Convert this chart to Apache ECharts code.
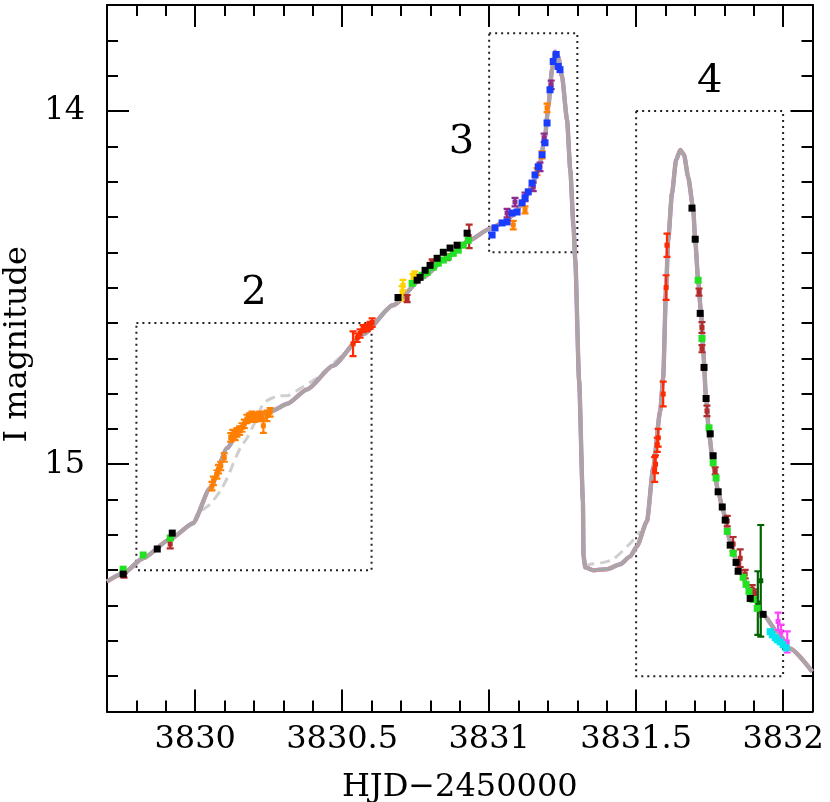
<!DOCTYPE html>
<html>
<head>
<meta charset="utf-8">
<script src="https://cdn.jsdelivr.net/npm/echarts@6/dist/echarts.min.js"></script>
<style>
  html, body { margin: 0; padding: 0; background: #fff; }
  #chart { width: 830px; height: 802px; }
</style>
</head>
<body>
<div id="chart"></div>
<script>
// model light curve [HJD-2450000, I mag]
var modelCurve = [
  [3829.700, 15.332], [3829.755, 15.309], [3829.823, 15.266], [3829.915, 15.212],
  [3829.993, 15.167], [3830.051, 15.067], [3830.109, 14.954], [3830.153, 14.897],
  [3830.180, 14.872], [3830.221, 14.858], [3830.265, 14.848], [3830.313, 14.829],
  [3830.381, 14.788], [3830.469, 14.721], [3830.571, 14.632], [3830.673, 14.550],
  [3830.776, 14.471], [3830.857, 14.414], [3830.929, 14.368], [3831.003, 14.333],
  [3831.048, 14.316], [3831.082, 14.295], [3831.116, 14.258], [3831.150, 14.204],
  [3831.173, 14.147], [3831.190, 14.073], [3831.201, 13.988], [3831.214, 13.883],
  [3831.224, 13.832], [3831.235, 13.846], [3831.248, 13.903], [3831.265, 14.025],
  [3831.276, 14.167], [3831.287, 14.328], [3831.293, 14.423], [3831.306, 14.763],
  [3831.319, 15.104], [3831.321, 15.260], [3831.327, 15.292], [3831.354, 15.300],
  [3831.401, 15.297], [3831.446, 15.283], [3831.480, 15.261], [3831.503, 15.232],
  [3831.537, 15.161], [3831.558, 15.011], [3831.582, 14.849], [3831.592, 14.755],
  [3831.602, 14.500], [3831.609, 14.366], [3831.622, 14.233], [3831.636, 14.139],
  [3831.650, 14.110], [3831.663, 14.124], [3831.677, 14.187], [3831.694, 14.275],
  [3831.701, 14.366], [3831.711, 14.479], [3831.721, 14.573], [3831.728, 14.678],
  [3831.738, 14.812], [3831.748, 14.914], [3831.762, 15.000], [3831.779, 15.076],
  [3831.796, 15.133], [3831.820, 15.218], [3831.847, 15.295], [3831.888, 15.360],
  [3831.932, 15.425], [3831.980, 15.474], [3832.024, 15.522], [3832.099, 15.587]
];

// alternative model (dashed), only where it departs from the others
var dashedCurve = [
  [3829.993, 15.167], [3830.007, 15.141], [3830.051, 15.113], [3830.085, 15.076],
  [3830.109, 15.039], [3830.129, 14.999], [3830.153, 14.954], [3830.177, 14.925],
  [3830.211, 14.868], [3830.231, 14.829], [3830.255, 14.815], [3830.289, 14.806],
  [3830.313, 14.806], [3830.357, 14.786], [3830.415, 14.755], [3830.469, 14.715],
  [3830.527, 14.673], null,
  [3831.327, 15.292], [3831.344, 15.283], [3831.378, 15.280], [3831.422, 15.269],
  [3831.480, 15.224], [3831.514, 15.190]
];

// observations [HJD, mag] or [HJD, mag, err]
var greenPts = [
  [3829.755, 15.297], [3829.823, 15.257], [3829.915, 15.209],
  [3830.738, 14.488], [3830.772, 14.465], [3830.789, 14.457], [3830.810, 14.442],
  [3830.827, 14.431], [3830.844, 14.422], [3830.861, 14.414], [3830.878, 14.403],
  [3830.895, 14.394], [3830.912, 14.380], [3830.929, 14.366],
  [3831.711, 14.479], [3831.724, 14.644], [3831.748, 14.897], [3831.762, 14.996],
  [3831.772, 15.039], [3831.810, 15.190], [3831.830, 15.252], [3831.864, 15.320],
  [3831.874, 15.340], [3831.884, 15.360], [3831.898, 15.383], [3831.912, 15.408]
];
var blackPts = [
  [3829.755, 15.311], [3829.871, 15.240], [3829.922, 15.195],
  [3830.690, 14.528], [3830.755, 14.479], [3830.765, 14.471], [3830.782, 14.451],
  [3830.799, 14.437], [3830.823, 14.417], [3830.844, 14.400], [3830.867, 14.388],
  [3830.891, 14.380], [3830.925, 14.346],
  [3831.690, 14.275], [3831.701, 14.363], [3831.718, 14.573], [3831.731, 14.726],
  [3831.738, 14.814], [3831.752, 14.914], [3831.762, 14.976], [3831.779, 15.078],
  [3831.793, 15.121], [3831.803, 15.158], [3831.820, 15.229], [3831.840, 15.278],
  [3831.847, 15.303], [3831.888, 15.380], [3831.932, 15.425]
];
var bluePts = [
  [3831.010, 14.351], [3831.020, 14.331], [3831.044, 14.317], [3831.061, 14.314],
  [3831.078, 14.289], [3831.095, 14.286], [3831.112, 14.260], [3831.122, 14.246],
  [3831.133, 14.229], [3831.146, 14.204], [3831.156, 14.181], [3831.167, 14.158],
  [3831.180, 14.124], [3831.190, 14.090], [3831.197, 14.034], [3831.207, 13.940],
  [3831.218, 13.860], [3831.228, 13.840], [3831.235, 13.874], [3831.241, 13.883]
];
var cyanPts = [
  [3831.956, 15.474], [3831.963, 15.483], [3831.973, 15.491], [3831.980, 15.497],
  [3831.990, 15.503], [3832.000, 15.511], [3832.010, 15.520]
];
var brownPts = [
  [3829.758, 15.315, 0.006], [3829.915, 15.226, 0.012],
  [3830.721, 14.531, 0.010], [3830.806, 14.428, 0.008], [3830.857, 14.414, 0.008],
  [3830.932, 14.355, 0.033],
  [3831.714, 14.513, 0.010], [3831.724, 14.613, 0.015], [3831.724, 14.673, 0.010],
  [3831.741, 14.849, 0.015], [3831.769, 15.019, 0.010], [3831.810, 15.161, 0.015],
  [3831.830, 15.226, 0.020], [3831.854, 15.266, 0.025], [3831.871, 15.311, 0.012],
  [3831.895, 15.354, 0.012], [3831.905, 15.366, 0.012]
];
var redPts = [
  [3830.537, 14.659, 0.035], [3830.551, 14.642, 0.012], [3830.561, 14.630, 0.012],
  [3830.571, 14.616, 0.010], [3830.585, 14.613, 0.010], [3830.595, 14.607, 0.010],
  [3830.602, 14.599, 0.012],
  [3831.605, 14.380, 0.033], [3831.602, 14.500, 0.035], [3831.592, 14.801, 0.035],
  [3831.575, 14.925, 0.025], [3831.572, 14.945, 0.020], [3831.566, 15.000, 0.025],
  [3831.563, 15.015, 0.035]
];
var orangePts = [
  [3830.057, 15.062, 0.012], [3830.062, 15.047, 0.012], [3830.074, 15.029, 0.012],
  [3830.079, 15.014, 0.012], [3830.087, 15.005, 0.012], [3830.099, 14.981, 0.012],
  [3830.121, 14.924, 0.012], [3830.128, 14.915, 0.012], [3830.136, 14.920, 0.012],
  [3830.142, 14.910, 0.012], [3830.151, 14.905, 0.012], [3830.159, 14.896, 0.012],
  [3830.167, 14.886, 0.012], [3830.176, 14.872, 0.012], [3830.185, 14.868, 0.012],
  [3830.193, 14.863, 0.012], [3830.201, 14.868, 0.012], [3830.210, 14.866, 0.012],
  [3830.219, 14.863, 0.012], [3830.227, 14.866, 0.012], [3830.232, 14.891, 0.020],
  [3830.244, 14.863, 0.015], [3830.255, 14.853, 0.012],
  [3831.082, 14.323, 0.012], [3831.122, 14.280, 0.010], [3831.163, 14.172, 0.010],
  [3831.180, 14.124, 0.010], [3831.197, 13.991, 0.012]
];
var yellowPts = [
  [3830.704, 14.516, 0.020], [3830.707, 14.493, 0.015], [3830.741, 14.471, 0.010],
  [3830.747, 14.462, 0.008]
];
var purplePts = [
  [3831.061, 14.289, 0.012], [3831.088, 14.258, 0.012], [3831.122, 14.243, 0.012],
  [3831.150, 14.215, 0.012], [3831.173, 14.158, 0.012], [3831.187, 14.076, 0.012],
  [3831.211, 13.926, 0.012]
];
var darkGreenPts = [
  [3831.924, 15.330, 0.158], [3831.914, 15.393, 0.090]
];
var magentaPts = [
  [3831.983, 15.445, 0.025], [3831.993, 15.474, 0.020], [3832.014, 15.503, 0.030]
];

// zoom boxes [x0, mag0, x1, mag1] and their numbers
var boxes = [
  [3829.8, 14.6, 3830.6, 15.3],
  [3831.0, 13.78, 3831.3, 14.4],
  [3831.5, 14.0, 3832.0, 15.6]
];
var boxNames = ['2', '3', '4'];
var boxLabelPos = ['top', 'left', 'top'];

var xMajor = [3830, 3830.5, 3831, 3831.5, 3832];
var yMajor = [14, 15];
var xRange = [3829.7, 3832.1];
var yRange = [13.7, 15.7];

var xMinor = [], yMinor = [];
for (var i = 0; i <= 24; i++) xMinor.push(+(3829.7 + i * 0.1).toFixed(1));
for (var j = 0; j <= 20; j++) yMinor.push(+(13.7 + j * 0.1).toFixed(1));

var FONT = 'DejaVu Serif';

function plain(v) { return String(v); }

function xAxisCfg(pos, ticks, long, labels) {
  return {
    type: 'value', min: xRange[0], max: xRange[1], position: pos,
    axisLine: { show: labels, onZero: false, lineStyle: { color: '#000', width: 2 } },
    axisTick: { inside: true, length: long ? 22 : 11, customValues: ticks, lineStyle: { color: '#000', width: 2 } },
    axisLabel: labels && pos === 'bottom'
      ? { customValues: xMajor, formatter: plain, fontFamily: FONT, fontSize: 32, color: '#000', margin: 12 }
      : { show: false },
    splitLine: { show: false },
    name: labels && pos === 'bottom' ? 'HJD\u22122450000' : '',
    nameLocation: 'middle', nameGap: 60,
    nameTextStyle: { fontFamily: FONT, fontSize: 32, color: '#000' }
  };
}

function yAxisCfg(pos, ticks, long, labels) {
  return {
    type: 'value', inverse: true, min: yRange[0], max: yRange[1], position: pos,
    axisLine: { show: labels, onZero: false, lineStyle: { color: '#000', width: 2 } },
    axisTick: { inside: true, length: long ? 22 : 11, customValues: ticks, lineStyle: { color: '#000', width: 2 } },
    axisLabel: labels && pos === 'left'
      ? { customValues: yMajor, formatter: plain, fontFamily: FONT, fontSize: 32, color: '#000', margin: 22 }
      : { show: false },
    splitLine: { show: false },
    name: labels && pos === 'left' ? 'I magnitude' : '',
    nameLocation: 'middle', nameGap: 70, nameRotate: 90,
    nameTextStyle: { fontFamily: FONT, fontSize: 32, color: '#000', padding: [0, 0, 0, 28] }
  };
}

function errSeries(name, data, color, size) {
  return {
    type: 'custom', name: name, data: data, z: 4, clip: true,
    encode: { x: 0, y: 1 },
    renderItem: function (params, api) {
      var x = api.value(0), m = api.value(1), e = api.value(2);
      var c = api.coord([x, m]);
      var a = api.coord([x, m - e]);
      var b = api.coord([x, m + e]);
      var cap = 3.5;
      var st = { stroke: color, lineWidth: 2.2 };
      return {
        type: 'group',
        children: [
          { type: 'line', shape: { x1: a[0], y1: a[1], x2: b[0], y2: b[1] }, style: st },
          { type: 'line', shape: { x1: a[0] - cap, y1: a[1], x2: a[0] + cap, y2: a[1] }, style: st },
          { type: 'line', shape: { x1: b[0] - cap, y1: b[1], x2: b[0] + cap, y2: b[1] }, style: st },
          { type: 'rect', shape: { x: c[0] - size / 2, y: c[1] - size / 2, width: size, height: size }, style: { fill: color } }
        ]
      };
    }
  };
}

function squares(name, data, color) {
  return {
    type: 'scatter', name: name, data: data, z: 5,
    symbol: 'rect', symbolSize: 7, itemStyle: { color: color, opacity: 1 }
  };
}

var areaData = boxes.map(function (b, k) {
  return [
    { coord: [b[0], b[1]], name: boxNames[k],
      label: { position: boxLabelPos[k], distance: boxLabelPos[k] === 'left' ? 14 : 8 } },
    { coord: [b[2], b[3]] }
  ];
});

var chart = echarts.init(document.getElementById('chart'), null, { renderer: 'canvas' });
chart.setOption({
  animation: false,
  backgroundColor: '#fff',
  grid: { left: 107, right: 17.5, top: 5, bottom: 90.5, containLabel: false, outerBoundsMode: 'none' },
  xAxis: [
    xAxisCfg('bottom', xMajor, true, true),
    xAxisCfg('bottom', xMinor, false, false),
    xAxisCfg('top', xMajor, true, true),
    xAxisCfg('top', xMinor, false, false)
  ],
  yAxis: [
    yAxisCfg('left', yMajor, true, true),
    yAxisCfg('left', yMinor, false, false),
    yAxisCfg('right', yMajor, true, true),
    yAxisCfg('right', yMinor, false, false)
  ],
  series: [
    {
      type: 'line', name: 'boxes', data: [], silent: true,
      markArea: {
        silent: true,
        itemStyle: { color: 'rgba(0,0,0,0)', borderColor: '#222', borderWidth: 2, borderType: [2, 4] },
        label: { show: true, fontFamily: FONT, fontSize: 40, color: '#000' },
        data: areaData
      }
    },
    {
      type: 'line', name: 'model dashed', data: dashedCurve, showSymbol: false, z: 1,
      connectNulls: false, smooth: 0.2,
      lineStyle: { color: '#cfcfcf', width: 3, type: [10, 6] }
    },
    {
      type: 'line', name: 'model blue', data: modelCurve, showSymbol: false, z: 2,
      smooth: 0.2, smoothMonotone: 'x',
      lineStyle: { color: '#8c8cf0', width: 4.4 }
    },
    {
      type: 'line', name: 'model red', data: modelCurve, showSymbol: false, z: 2,
      smooth: 0.2, smoothMonotone: 'x',
      lineStyle: { color: '#f28a8a', width: 4.0 }
    },
    {
      type: 'line', name: 'model', data: modelCurve, showSymbol: false, z: 2,
      smooth: 0.2, smoothMonotone: 'x',
      lineStyle: { color: '#a6a6a6', width: 3.4 }
    },
    errSeries('orange', orangePts, '#ff7f00', 5),
    errSeries('yellow', yellowPts, '#ffd200', 5),
    errSeries('purple', purplePts, '#8e2c8e', 5),
    errSeries('brown', brownPts, '#b22c2c', 5),
    errSeries('red', redPts, '#ff2a00', 5),
    errSeries('darkgreen', darkGreenPts, '#006400', 5),
    errSeries('magenta', magentaPts, '#ff44ff', 5),
    squares('blue', bluePts, '#1a3cff'),
    squares('green', greenPts, '#22e022'),
    squares('black', blackPts, '#000000'),
    squares('cyan', cyanPts, '#00e5ee')
  ]
});
</script>
</body>
</html>
